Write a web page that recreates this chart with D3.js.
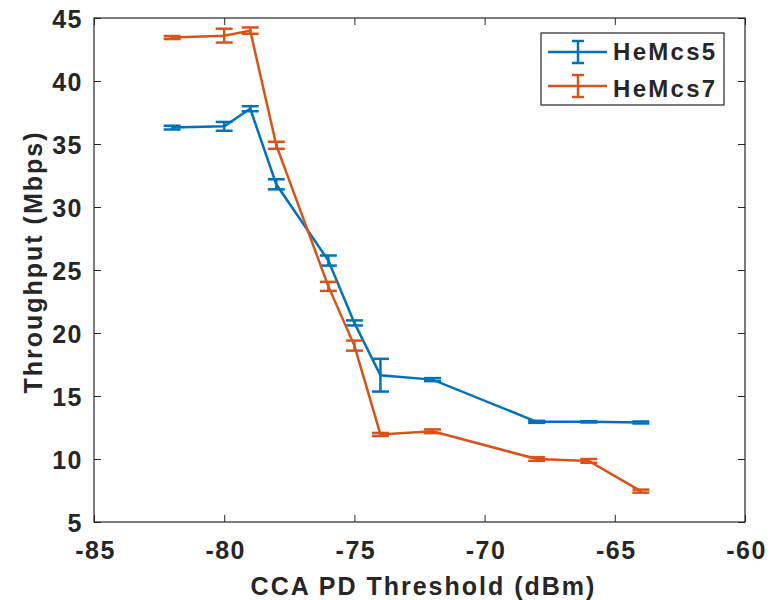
<!DOCTYPE html>
<html>
<head>
<meta charset="utf-8">
<script src="https://cdn.jsdelivr.net/npm/d3@7"></script>
<style>
  body { margin: 0; background: #fff; }
  text { font-family: "Liberation Sans", Arial, sans-serif; font-weight: bold; fill: #262626; }
</style>
</head>
<body>
<script>
var w = 771; // Width of the page
var h = 600; // Height of the page
var margin = {left: 94, right: 26, top: 18, bottom: 78};

// Data
var thresholds = [-82, -80, -79, -78, -76, -75, -74, -72, -68, -66, -64];
var mcs5 = [36.3, 36.4, 37.8, 31.8, 25.75, 20.8, 16.65, 16.3, 12.95, 12.95, 12.9];
var mcs5Err = [0.15, 0.35, 0.2, 0.4, 0.4, 0.2, 1.3, 0.12, 0.08, 0.05, 0.08];
var mcs7 = [43.45, 43.6, 44.0, 34.9, 23.7, 19.0, 11.95, 12.2, 10.0, 9.85, 7.45];
var mcs7Err = [0.12, 0.55, 0.25, 0.28, 0.36, 0.4, 0.12, 0.15, 0.15, 0.15, 0.12];
var xTicks = [-85, -80, -75, -70, -65, -60];
var yTicks = [5, 10, 15, 20, 25, 30, 35, 40, 45];

var series = [
    {name: "HeMcs5", values: mcs5, err: mcs5Err, color: "#0072BD"},
    {name: "HeMcs7", values: mcs7, err: mcs7Err, color: "#D95319"}
];

var xScale = d3.scaleLinear()
    .domain([-85, -60])
    .range([margin.left, w - margin.right]);

var yScale = d3.scaleLinear()
    .domain([5, 45])
    .range([h - margin.bottom, margin.top]);

var svg = d3.select("body")
    .append("svg")
    .attr("width", w)
    .attr("height", h);

var x0 = margin.left, x1 = w - margin.right;
var y0 = h - margin.bottom, y1 = margin.top;

// Plain hyphen for negative numbers, like the original
var plain = function(d) { return String(d); };

svg.append("g")
    .attr("transform", "translate(0," + y0 + ")")
    .call(d3.axisBottom(xScale).tickValues(xTicks).tickSize(-7).tickPadding(0).tickFormat(plain))
    .call(function(g) {
        g.select(".domain").remove();
        g.selectAll("line").attr("stroke", "#262626");
        g.selectAll("text")
            .attr("y", 37)
            .attr("dy", null)
            .attr("dx", "1px")
            .attr("fill", "#262626")
            .style("font-size", "25px")
            .style("letter-spacing", "1.5px");
    });

svg.append("g")
    .attr("transform", "translate(0," + y1 + ")")
    .call(d3.axisTop(xScale).tickValues(xTicks).tickSize(-7).tickFormat(""))
    .call(function(g) {
        g.select(".domain").remove();
        g.selectAll("line").attr("stroke", "#262626");
    });

svg.append("g")
    .attr("transform", "translate(" + x0 + ",0)")
    .call(d3.axisLeft(yScale).tickValues(yTicks).tickSize(-7).tickPadding(11).tickFormat(plain))
    .call(function(g) {
        g.select(".domain").remove();
        g.selectAll("line").attr("stroke", "#262626");
        g.selectAll("text")
            .attr("dy", "9px")
            .attr("fill", "#262626")
            .style("font-size", "25px")
            .style("letter-spacing", "1.5px");
    });

svg.append("g")
    .attr("transform", "translate(" + x1 + ",0)")
    .call(d3.axisRight(yScale).tickValues(yTicks).tickSize(-7).tickFormat(""))
    .call(function(g) {
        g.select(".domain").remove();
        g.selectAll("line").attr("stroke", "#262626");
    });

// Box
svg.append("rect")
    .attr("x", x0)
    .attr("y", y1)
    .attr("width", x1 - x0)
    .attr("height", y0 - y1)
    .attr("fill", "none")
    .attr("stroke", "#262626")
    .attr("stroke-width", 1.2);

// Lines and error bars
var line = d3.line()
    .x(function(d, i) { return xScale(thresholds[i]); })
    .y(function(d) { return yScale(d); });

var capHalf = 8.5;

series.forEach(function(s) {
    svg.append("path")
        .datum(s.values)
        .attr("d", line)
        .attr("fill", "none")
        .attr("stroke", s.color)
        .attr("stroke-width", 2.5);

    var bars = svg.append("g")
        .attr("stroke", s.color)
        .attr("stroke-width", 2.5);

    s.values.forEach(function(v, i) {
        var cx = xScale(thresholds[i]);
        var top = yScale(v + s.err[i]);
        var bot = yScale(v - s.err[i]);
        bars.append("line").attr("x1", cx).attr("x2", cx).attr("y1", top).attr("y2", bot);
        bars.append("line").attr("x1", cx - capHalf).attr("x2", cx + capHalf).attr("y1", top).attr("y2", top);
        bars.append("line").attr("x1", cx - capHalf).attr("x2", cx + capHalf).attr("y1", bot).attr("y2", bot);
    });
});

// Legend
var legend = svg.append("g");
legend.append("rect")
    .attr("x", 541)
    .attr("y", 33)
    .attr("width", 183)
    .attr("height", 72)
    .attr("fill", "#fff")
    .attr("stroke", "#262626")
    .attr("stroke-width", 1.2);

series.forEach(function(s, i) {
    var ly = 52 + i * 34;
    var g = legend.append("g").attr("stroke", s.color).attr("stroke-width", 2.5);
    g.append("line").attr("x1", 548).attr("x2", 607).attr("y1", ly).attr("y2", ly);
    g.append("line").attr("x1", 578).attr("x2", 578).attr("y1", ly - 11).attr("y2", ly + 11);
    g.append("line").attr("x1", 572).attr("x2", 584).attr("y1", ly - 11).attr("y2", ly - 11);
    g.append("line").attr("x1", 572).attr("x2", 584).attr("y1", ly + 11).attr("y2", ly + 11);
    legend.append("text")
        .attr("x", 613)
        .attr("y", 60 + i * 37)
        .style("font-size", "24px")
        .style("letter-spacing", "2.3px")
        .text(s.name);
});

// Axis titles
svg.append("text")
    .attr("text-anchor", "middle")
    .attr("x", (x0 + x1) / 2 + 4)
    .attr("y", 595)
    .style("font-size", "25px")
    .style("letter-spacing", "2px")
    .text("CCA PD Threshold (dBm)");

svg.append("text")
    .attr("text-anchor", "middle")
    .attr("transform", "rotate(-90)")
    .attr("x", -262)
    .attr("y", 42)
    .style("font-size", "25px")
    .style("letter-spacing", "2px")
    .text("Throughput (Mbps)");
</script>
</body>
</html>
